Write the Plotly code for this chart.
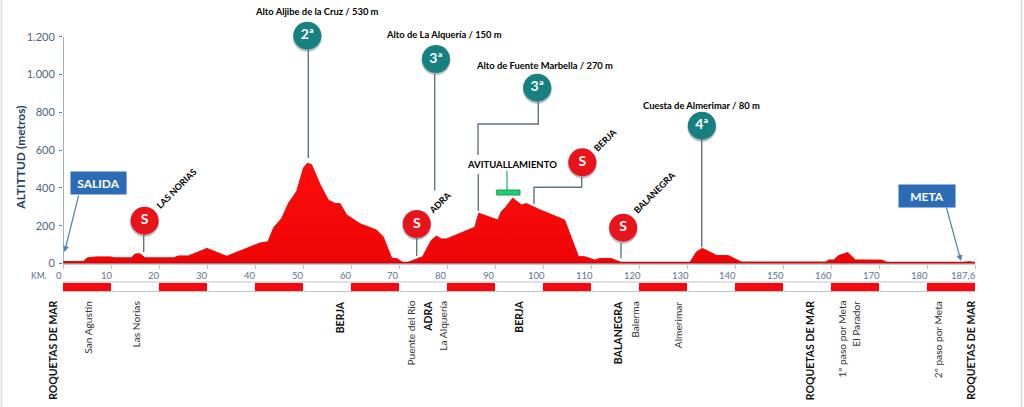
import plotly.graph_objects as go

# ---------- data ----------
km = [0, 4.3, 5.1, 7, 9.8, 10.8, 14.3, 15, 16, 17.1, 23, 24.1, 26.1, 30, 34.1, 41, 42.7, 43.9, 45.6, 47, 48.7,
      50.1, 50.9, 51.8, 53.6, 55.3, 56.7, 57.7, 59.1, 61.9, 65.3, 66.7, 68.5, 69.5, 70.8, 71.8, 74.9, 76.7, 77.8,
      78.8, 79.9, 85.8, 86.6, 90.6, 91.3, 92.2, 93.7, 95.5, 96.5, 99.3, 104.5, 107.4, 108.7, 110.8, 111.8, 114.2,
      116.3, 130.6, 132, 133.2, 136.2, 138.6, 141.4, 158.9, 159.5, 160.6, 161.6, 163.5, 165.1, 170.6, 171.7, 187,
      189, 190]
altitude = [10, 12, 30, 35, 35, 30, 30, 50, 52, 30, 30, 40, 40, 80, 38, 108, 115, 190, 240, 320, 382,
            505, 530, 522, 415, 335, 317, 317, 257, 210, 177, 142, 27, 27, 5, 5, 36, 121, 145,
            130, 130, 192, 266, 230, 274, 297, 346, 309, 317, 285, 230, 36, 36, 18, 27, 27,
            5, 5, 62, 80, 42, 42, 7, 7, 19, 19, 42, 58, 19, 18, 5, 5,
            9, 3]
base_km = [0, 190]
base_alt = [3, 3]

alt_ticks = [0, 200, 400, 600, 800, 1000, 1200]
alt_labels = ["0", "200", "400", "600", "800", "1.000", "1.200"]
km_ticks = [0, 10, 20, 30, 40, 50, 60, 70, 80, 90, 100, 110, 120, 130, 140, 150, 160, 170, 180, 190]
km_labels = ["0", "10", "20", "30", "40", "50", "60", "70", "80", "90", "100", "110", "120", "130", "140",
             "150", "160", "170", "180", "187,6"]
band_km = [5, 25, 45, 65, 85, 105, 125, 145, 165, 185]
band_val = [1, 1, 1, 1, 1, 1, 1, 1, 1, 1]

climb_km = [50.9, 77.7, 98.8, 133.1]
climb_cat = ["2ª", "3ª", "3ª", "4ª"]
climb_names = ["Alto Aljibe de la Cruz / 530 m", "Alto de La Alquería / 150 m",
               "Alto de Fuente Marbella / 270 m", "Cuesta de Almerimar / 80 m"]
sprint_km = [17, 73.7, 108.2, 116.7]
sprint_names = ["LAS NORIAS", "ADRA", "BERJA", "BALANEGRA"]
places = ["ROQUETAS DE MAR", "San Agustín", "Las Norias", "BERJA", "Puente del Río", "ADRA", "La Alquería", "BERJA",
          "BALANEGRA", "Balerma", "Almerimar", "ROQUETAS DE MAR", "1º paso por Meta", "El Parador",
          "2º paso por Meta", "ROQUETAS DE MAR"]
place_bold = [1, 0, 0, 1, 0, 1, 0, 1, 1, 0, 0, 1, 0, 0, 0, 1]

# ---------- layout helpers (pixel to axis) ----------
W, H = 1024, 407
L, R_px, Y0, PX_M, PX_KM = 63, 975, 263.5, 0.189, 4.8
BOTTOM = 292
def kx(px): return (px - L) / PX_KM
def ay(py): return (Y0 - py) / PX_M
def pf(py): return (BOTTOM - py) / BOTTOM   # paper y
def px_f(px): return (px - L) / (R_px - L)  # paper x
FONT = "Lato"
fig = go.Figure()

fig.add_trace(go.Bar(x=band_km, y=band_val, width=[10] * len(band_km), marker=dict(color="#f40a10", line_width=0),
                     yaxis="y2", hoverinfo="skip", showlegend=False))
fig.add_trace(go.Scatter(x=km, y=altitude, mode="lines", fill="tozeroy",
                         line=dict(color="#ee0808", width=1),
                         fillgradient=dict(type="vertical",
                                           colorscale=[[0, "#ee0505"], [1, "#ff0c0c"]]),
                         hoverinfo="skip", showlegend=False))
fig.add_trace(go.Scatter(x=base_km, y=base_alt, mode="lines", line=dict(color="#b5121a", width=2.5),
                         hoverinfo="skip", showlegend=False))

climb_py = [35.7, 59, 87.7, 125.7]
sprint_py = [220.7, 224, 162.3, 227.7]
for xs, pys, col, txt in [(climb_km, climb_py, "#178080", climb_cat), (sprint_km, sprint_py, "#e8141c", ["S"] * 4)]:
    ys = [ay(p) for p in pys]
    shadow = [ay(p + 1.5) for p in pys]
    fig.add_trace(go.Scatter(x=xs, y=shadow, mode="markers", marker=dict(size=29, color="rgba(90,110,120,0.45)"),
                             hoverinfo="skip", showlegend=False))
    fig.add_trace(go.Scatter(x=xs, y=ys, mode="markers+text", text=txt, textposition="middle center",
                             textfont=dict(family=FONT, size=14, color="white", weight="bold"),
                             marker=dict(size=28, color=col), hoverinfo="skip", showlegend=False))

# ---------- connectors ----------
LINE = dict(color="#5f7488", width=1.4)
paths = [
    [(308.3, 50), (308.3, 158)],
    [(434.7, 74), (434.7, 190.5)],
    [(538.3, 101.7), (538.3, 124), (478, 124), (478, 155)],
    [(478.3, 174), (478.3, 211)],
    [(581.7, 176.7), (581.7, 187.3), (534, 187.3), (534, 204)],
    [(143.7, 235), (143.7, 252)],
    [(416.7, 237), (416.7, 256)],
    [(621, 242.7), (621, 258.3)],
    [(701.7, 139), (701.7, 247.3)],
]
shapes = []
for p in paths:
    d = "M" + " L".join(f"{kx(a):.3f},{ay(b):.3f}" for a, b in p)
    shapes.append(dict(type="path", path=d, xref="x", yref="y", line=LINE))
# green feed-zone marker
shapes.append(dict(type="line", xref="x", yref="y", x0=kx(507), x1=kx(507), y0=ay(170.7), y1=ay(190),
                   line=dict(color="#3fc078", width=1.4)))
shapes.append(dict(type="rect", xref="x", yref="y", x0=kx(496.7), x1=kx(520), y0=ay(190), y1=ay(195),
                   fillcolor="#22cc70", line=dict(color="#1a9a55", width=1)))
# y axis line
shapes.append(dict(type="line", xref="x", yref="y", x0=0, x1=0, y0=0, y1=1200, line=dict(color="#5f7f9f", width=1.2)))
# band frame
for py in (282, 291.5):
    shapes.append(dict(type="line", xref="x", yref="paper", x0=0, x1=190, y0=pf(py), y1=pf(py),
                       line=dict(color="#c4c4c4", width=1)))
# image frame
for px in (1.5, 1021.5):
    shapes.append(dict(type="line", xref="paper", yref="paper", x0=px_f(px), x1=px_f(px),
                       y0=pf(0), y1=pf(407), line=dict(color="#d8d8d8", width=1.5)))
# box shadows
for x0, x1, y0, y1 in [(73, 126.5, 174, 194), (901, 955, 187, 207)]:
    shapes.append(dict(type="rect", xref="x", yref="y", x0=kx(x0), x1=kx(x1), y0=ay(y1), y1=ay(y0),
                       fillcolor="rgba(110,110,110,0.45)", line_width=0, layer="below"))

# ---------- text ----------
ann = []
def text(px, py, s, size=10, color="black", bold=False, angle=0, xa="center", ya="middle", **kw):
    ann.append(dict(x=px_f(px), y=pf(py), xref="paper", yref="paper", text=s, showarrow=False, textangle=angle,
                    xanchor=xa, yanchor=ya,
                    font=dict(family=FONT, size=size, color=color, weight="bold" if bold else "normal"), **kw))

for s, px, py in zip(climb_names, [317, 443.5, 544, 701], [11, 34, 65, 105]):
    text(px, py, s, size=9.4, bold=True)
for s, px, py in zip(sprint_names, [176, 439.7, 605.3, 654], [188, 202, 139.3, 192]):
    text(px, py, s, size=9, angle=-45, bold=True)
text(512, 164.7, "AVITUALLAMIENTO", size=9.5, bold=True)
text(20.7, 158, "ALTITTUD (metros)", size=12, color="#1f3f66", bold=True, angle=-90)
text(39.3, 275.7, "KM.", size=8.5, color="#4f6a85")
for k, s in zip(km_ticks, km_labels):
    text(58.7 + 4.78 * k if k < 190 else 963.7, 275.7, s, size=9.5, color="#5a7590")

place_px = [52.3, 87.3, 135, 340.3, 410, 427.3, 442.7, 518.7, 617.7, 634.3, 677.7, 809.7, 841, 855.7, 937.7, 970.3]
for s, px, b in zip(places, place_px, place_bold):
    text(px, 299, s, size=10.5 if b else 10.2, color="#111" if b else "#333", bold=bool(b), angle=-90, ya="top")

text(98.6, 182.7, "SALIDA", size=12, color="white", bold=True, bgcolor="#2c6bb5", width=53, height=20)
text(927, 195.7, "META", size=12, color="white", bold=True, bgcolor="#2c6bb5", width=54, height=20)
for hx, hy, tx, ty in [(64.5, 252, 79, 194), (961, 261, 946, 206)]:
    ann.append(dict(x=kx(hx), y=ay(hy), xref="x", yref="y", ax=tx - hx, ay=ty - hy, text="", showarrow=True,
                    arrowhead=2, arrowsize=1, arrowwidth=1.2, arrowcolor="#4f7fb5"))

fig.update_layout(
    width=W, height=H, margin=dict(l=L, r=W - R_px, t=0, b=H - BOTTOM, pad=0),
    paper_bgcolor="white", plot_bgcolor="white", showlegend=False, bargap=0,
    shapes=shapes, annotations=ann,
    xaxis=dict(range=[0, 190], tickvals=km_ticks, ticks="outside", ticklen=4, tickcolor="#c0c0c0",
               showticklabels=False, showgrid=False, zeroline=False, showline=True, linecolor="#c8c8c8",
               anchor="y"),
    yaxis=dict(domain=[(BOTTOM - Y0) / BOTTOM, 1], range=[0, Y0 / PX_M], tickvals=alt_ticks, ticktext=alt_labels,
               ticks="outside", ticklen=3, tickcolor="#5f7f9f", showgrid=False, zeroline=False, showline=False,
               tickfont=dict(family=FONT, size=11, color="#4a6480"), ticklabelstandoff=2),
    yaxis2=dict(domain=[0, 9.5 / BOTTOM], range=[0, 1], visible=False, anchor="x"),
)
fig.write_html("out.html", config={"displayModeBar": False},
               post_script="document.body.style.margin='0';document.body.style.overflow='hidden';")
